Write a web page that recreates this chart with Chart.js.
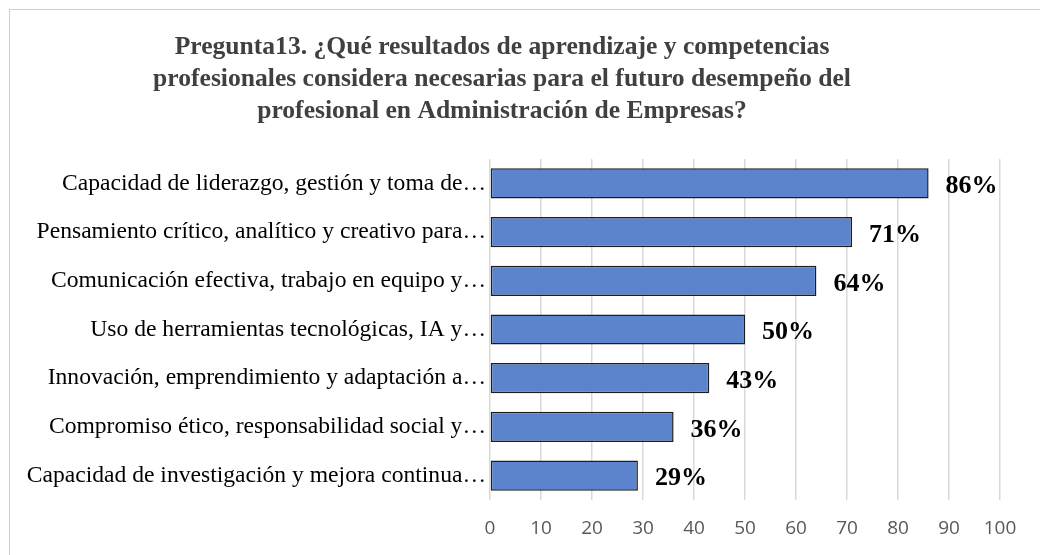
<!DOCTYPE html>
<html>
<head>
<meta charset="utf-8">
<script src="https://cdn.jsdelivr.net/npm/chart.js@4/dist/chart.umd.min.js"></script>
<style>
  html, body { margin: 0; padding: 0; background: #fff; }
  #wrap { position: relative; width: 1040px; height: 555px; overflow: hidden; }
  #frame { position: absolute; left: 9px; top: 9px; width: 1100px; height: 600px; border: 1.5px solid #d0d0d0; box-sizing: border-box; }
  canvas { position: absolute; left: 0; top: 0; }
</style>
</head>
<body>
<div id="wrap">
  <div id="frame"></div>
  <canvas id="grafico" width="1040" height="555"></canvas>
</div>
<script>
// Datos
const categorias = [
  'Capacidad de liderazgo, gestión y toma de…',
  'Pensamiento crítico, analítico y creativo para…',
  'Comunicación efectiva, trabajo en equipo y…',
  'Uso de herramientas tecnológicas, IA y…',
  'Innovación, emprendimiento y adaptación a…',
  'Compromiso ético, responsabilidad social y…',
  'Capacidad de investigación y mejora continua…'
];
const valores = [86, 71, 64, 50, 43, 36, 29];
const etiquetas = ['86%', '71%', '64%', '50%', '43%', '36%', '29%'];
const ticksX = [0, 10, 20, 30, 40, 50, 60, 70, 80, 90, 100];

const titulo = [
  'Pregunta13. ¿Qué resultados de aprendizaje y competencias',
  'profesionales considera necesarias para el futuro desempeño del',
  'profesional en Administración de Empresas?'
];

// etiquetas de valor al final de cada barra
const etiquetasPlugin = {
  id: 'etiquetas',
  afterDatasetsDraw(chart) {
    const ctx = chart.ctx;
    const meta = chart.getDatasetMeta(0);
    ctx.save();
    ctx.font = 'bold 26px "Liberation Serif", "Times New Roman", serif';
    ctx.fillStyle = '#000';
    ctx.textAlign = 'left';
    ctx.textBaseline = 'middle';
    meta.data.forEach((bar, i) => {
      ctx.fillText(etiquetas[i], bar.x + 17, bar.y + 3);
    });
    ctx.restore();
  }
};

// centrar el titulo sobre el marco del grafico
const tituloPlugin = {
  id: 'tituloPos',
  afterLayout(chart) {
    const t = chart.titleBlock;
    if (t) { t.left = 9; t.right = 995; t.width = 986; }
  }
};

const ctx = document.getElementById('grafico').getContext('2d');

new Chart(ctx, {
  type: 'bar',
  data: {
    labels: categorias,
    datasets: [{
      data: valores,
      backgroundColor: '#5b84cc',
      borderColor: '#1e1e1e',
      borderWidth: 1.5,
      borderSkipped: false,
      barPercentage: 0.62,
      categoryPercentage: 1.0
    }]
  },
  options: {
    indexAxis: 'y',
    responsive: false,
    animation: false,
    layout: { padding: { left: 0, right: 40, top: 0, bottom: 0 } },
    plugins: {
      legend: { display: false },
      tooltip: { enabled: false },
      title: {
        display: true,
        text: titulo,
        color: '#404040',
        font: { family: '"Liberation Serif", "Times New Roman", serif', size: 25.6, weight: 'bold', lineHeight: 1.25 },
        padding: { top: 31, bottom: 32 }
      }
    },
    scales: {
      x: {
        min: 0,
        max: 100,
        afterBuildTicks(s) { s.ticks = ticksX.map(v => ({ value: v })); },
        afterFit(s) { s.height = 55; },
        grid: { color: '#d9d9d9', lineWidth: 1.5, drawTicks: false },
        border: { display: false },
        ticks: {
          color: '#595959',
          padding: 17,
          maxRotation: 0,
          font: { family: '"Open Sans", sans-serif', size: 19 }
        }
      },
      y: {
        afterFit(s) { s.width = 490; },
        grid: { display: false, drawTicks: false },
        border: { display: false },
        ticks: {
          color: '#000',
          padding: 4,
          font: { family: '"Liberation Serif", "Times New Roman", serif', size: 23.6 }
        }
      }
    }
  },
  plugins: [etiquetasPlugin, tituloPlugin]
});
</script>
</body>
</html>
